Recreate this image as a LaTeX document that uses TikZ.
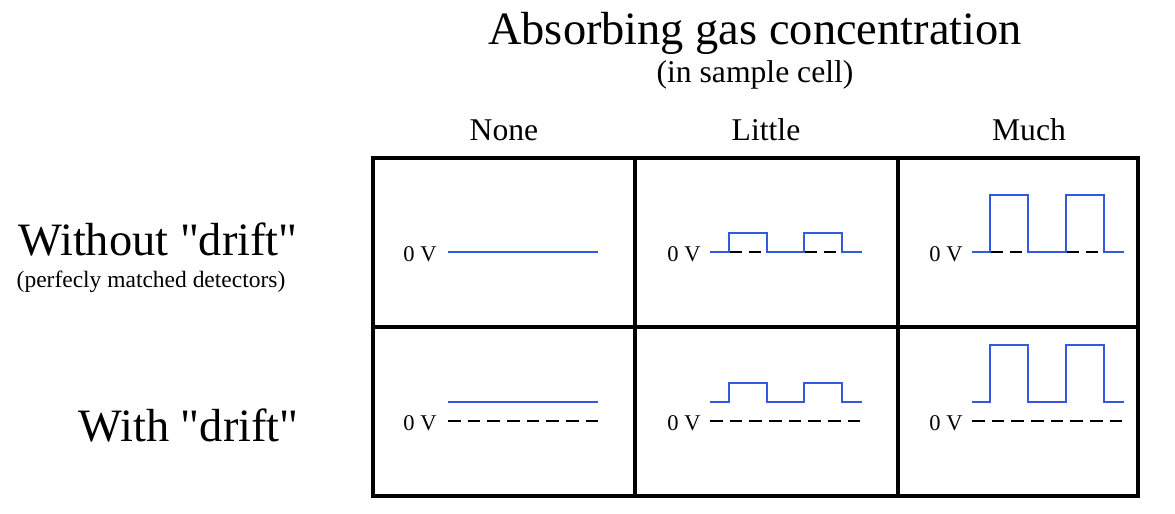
\documentclass[tikz,border=0pt]{standalone}
\usepackage{fontspec}
\setmainfont{Liberation Serif}[Ligatures=TeXOff]
\definecolor{wave}{RGB}{50,90,225}
\begin{document}
\begin{tikzpicture}[x=0.025cm,y=-0.025cm,
  grid/.style={line width=2.2pt},
  sig/.style={wave,line width=2.1pt},
  zero/.style={black,line width=2pt,dash pattern=on 9pt off 5pt},
  lbl/.style={inner sep=0pt,font=\fontsize{16}{18}\selectfont},
  hdr/.style={inner sep=0pt,font=\fontsize{22.5}{26}\selectfont}]
\useasboundingbox (0,0) rectangle (1175,513);
\node[inner sep=0pt,font=\fontsize{33}{38}\selectfont] (title) at (755,33) {Absorbing gas concentration};
\node[hdr] (sub) at (755,75) {(in sample cell)};
\node[hdr] (none) at (504,130) {None};
\node[hdr] (little) at (766,130) {Little};
\node[hdr] (much) at (1029,130) {Much};
\node[inner sep=0pt,font=\fontsize{33}{38}\selectfont] (wo) at (158,240) {Without "drift"};
\node[inner sep=0pt,font=\fontsize{16.7}{19}\selectfont] (pm) at (151,282) {(perfecly matched detectors)};
\node[inner sep=0pt,font=\fontsize{33}{38}\selectfont,anchor=east] (w) at (299,426) {With "drift"};
\draw[grid] (373,158) rectangle (1138,496);
\draw[grid] (373,327) -- (1138,327) (635,158) -- (635,496) (898,158) -- (898,496);
% labels
\node[lbl] (z11) at (420,254) {0 V};
\node[lbl] (z12) at (684,254) {0 V};
\node[lbl] (z13) at (946,254) {0 V};
\node[lbl] (z21) at (420,423) {0 V};
\node[lbl] (z22) at (684,423) {0 V};
\node[lbl] (z23) at (946,423) {0 V};
% row 1
\draw[sig] (448,252) -- (598,252);
\draw[zero] (729,252) -- (767,252) (804,252) -- (842,252);
\draw[sig] (710,252) -- (729,252) -- (729,233) -- (767,233) -- (767,252) -- (804,252) -- (804,233) -- (842,233) -- (842,252) -- (862,252);
\draw[zero] (990,252) -- (1028,252) (1066,252) -- (1104,252);
\draw[sig] (972,252) -- (990,252) -- (990,195) -- (1028,195) -- (1028,252) -- (1066,252) -- (1066,195) -- (1104,195) -- (1104,252) -- (1124,252);
% row 2
\draw[sig] (448,402) -- (598,402);
\draw[zero] (448,421) -- (598,421);
\draw[zero] (710,421) -- (862,421);
\draw[sig] (710,402) -- (729,402) -- (729,383) -- (767,383) -- (767,402) -- (804,402) -- (804,383) -- (842,383) -- (842,402) -- (862,402);
\draw[zero] (972,421) -- (1124,421);
\draw[sig] (972,402) -- (990,402) -- (990,345) -- (1028,345) -- (1028,402) -- (1066,402) -- (1066,345) -- (1104,345) -- (1104,402) -- (1124,402);
\end{tikzpicture}
\end{document}
